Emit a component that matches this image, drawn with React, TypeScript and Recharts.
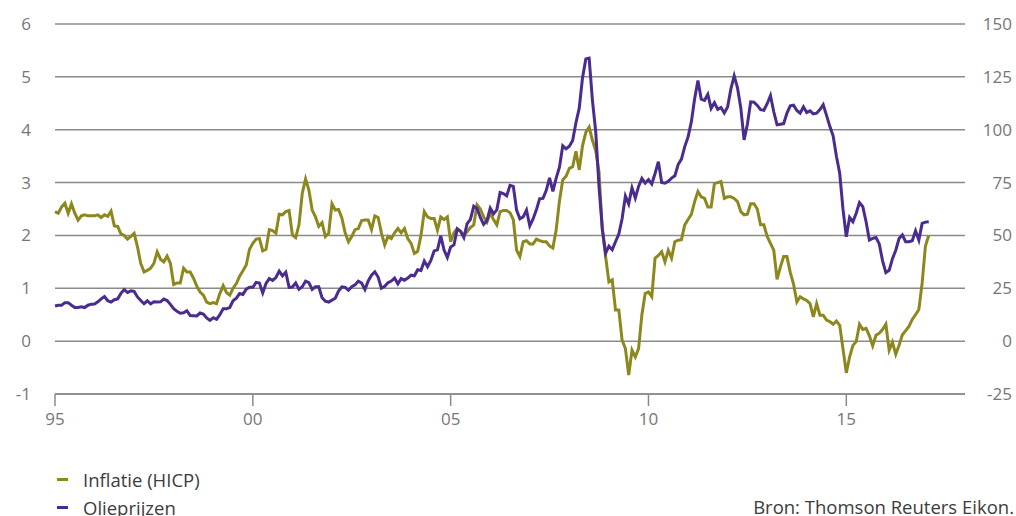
import { useLayoutEffect } from "react";
import { LineChart, Line, XAxis, YAxis, CartesianGrid } from "recharts";

const startJaar = 1995;

// HICP-inflatie eurozone, % j-o-j, maandelijks vanaf jan 1995
const inflatie = [
  2.45, 2.42, 2.54, 2.61, 2.42, 2.6, 2.42, 2.29, 2.37, 2.39, 2.37, 2.37, // 1995
  2.37, 2.39, 2.34, 2.39, 2.36, 2.46, 2.18, 2.17, 2.03, 2.0, 1.93, 1.98, // 1996
  2.04, 1.79, 1.47, 1.31, 1.34, 1.38, 1.47, 1.69, 1.55, 1.5, 1.61, 1.47, // 1997
  1.07, 1.1, 1.1, 1.38, 1.31, 1.31, 1.19, 1.04, 0.93, 0.87, 0.74, 0.71, // 1998
  0.73, 0.71, 0.9, 1.05, 0.92, 0.87, 1.0, 1.09, 1.23, 1.33, 1.44, 1.74, // 1999
  1.85, 1.93, 1.94, 1.71, 1.74, 2.11, 2.09, 2.04, 2.4, 2.39, 2.45, 2.47, // 2000
  2.01, 1.96, 2.2, 2.8, 3.07, 2.86, 2.48, 2.35, 2.17, 2.24, 1.98, 2.04, // 2001
  2.6, 2.48, 2.49, 2.33, 2.05, 1.88, 1.98, 2.11, 2.13, 2.28, 2.29, 2.29, // 2002
  2.11, 2.37, 2.34, 2.05, 1.82, 1.98, 1.94, 2.05, 2.13, 2.05, 2.13, 1.94, // 2003
  1.85, 1.66, 1.7, 2.0, 2.45, 2.35, 2.32, 2.32, 2.1, 2.35, 2.3, 2.35, // 2004
  1.88, 2.05, 2.13, 2.08, 2.0, 2.07, 2.15, 2.2, 2.58, 2.5, 2.35, 2.25, // 2005
  2.42, 2.3, 2.2, 2.45, 2.47, 2.47, 2.43, 2.3, 1.72, 1.6, 1.88, 1.9, // 2006
  1.84, 1.84, 1.93, 1.9, 1.88, 1.88, 1.8, 1.76, 2.1, 2.65, 3.05, 3.12, // 2007
  3.27, 3.3, 3.59, 3.24, 3.7, 3.95, 4.05, 3.8, 3.6, 3.2, 2.1, 1.6, // 2008
  1.12, 1.16, 0.59, 0.59, 0.02, -0.14, -0.64, -0.17, -0.3, -0.14, 0.5, 0.9, // 2009
  0.93, 0.84, 1.57, 1.62, 1.69, 1.5, 1.72, 1.57, 1.88, 1.91, 1.92, 2.2, // 2010
  2.3, 2.4, 2.64, 2.83, 2.73, 2.7, 2.54, 2.54, 2.98, 3.0, 3.02, 2.7, // 2011
  2.73, 2.73, 2.7, 2.64, 2.45, 2.39, 2.4, 2.6, 2.6, 2.5, 2.2, 2.2, // 2012
  1.98, 1.85, 1.72, 1.17, 1.4, 1.6, 1.6, 1.3, 1.08, 0.74, 0.84, 0.8, // 2013
  0.77, 0.71, 0.46, 0.71, 0.49, 0.49, 0.4, 0.37, 0.32, 0.38, 0.3, -0.15, // 2014
  -0.6, -0.3, -0.08, -0.01, 0.32, 0.22, 0.24, 0.1, -0.09, 0.11, 0.15, 0.22, // 2015
  0.32, -0.17, -0.02, -0.25, -0.08, 0.12, 0.2, 0.28, 0.41, 0.5, 0.6, 1.1, // 2016
  1.8, 2.0, // 2017
];

// Olieprijs (Brent, USD per vat), maandelijks vanaf jan 1995
const olie = [
  16.6, 17.0, 17.0, 18.2, 18.2, 17.0, 15.9, 15.9, 16.3, 15.9, 17.0, 17.5, // 1995
  17.6, 18.6, 20.0, 21.1, 19.1, 18.5, 19.6, 20.0, 22.6, 24.4, 23.0, 23.8, // 1996
  23.5, 20.9, 19.2, 17.7, 19.1, 17.6, 18.6, 18.5, 18.6, 19.9, 19.2, 17.4, // 1997
  15.4, 14.1, 13.2, 13.4, 14.4, 12.1, 12.0, 11.9, 13.3, 12.8, 11.0, 9.8, // 1998
  11.1, 10.3, 12.5, 15.3, 15.3, 15.9, 19.1, 20.3, 22.5, 22.1, 24.6, 25.5, // 1999
  25.5, 27.8, 27.5, 22.8, 27.3, 29.6, 28.7, 30.1, 33.1, 30.9, 32.6, 25.4, // 2000
  25.6, 27.5, 24.5, 25.7, 28.4, 27.7, 24.5, 25.7, 25.7, 20.5, 18.9, 18.5, // 2001
  19.4, 20.3, 23.7, 25.7, 25.4, 24.1, 25.7, 26.6, 28.4, 27.5, 24.4, 28.5, // 2002
  31.2, 32.8, 30.3, 25.0, 25.9, 27.6, 28.4, 29.8, 27.1, 29.6, 28.8, 29.8, // 2003
  31.2, 30.9, 33.8, 33.4, 37.9, 35.2, 38.2, 42.7, 43.2, 49.8, 43.1, 39.6, // 2004
  44.5, 45.5, 53.1, 51.9, 49.0, 55.6, 57.6, 63.8, 62.7, 58.5, 55.2, 56.9, // 2005
  62.9, 60.2, 62.1, 70.3, 69.8, 68.7, 73.7, 73.2, 62.0, 57.9, 58.8, 62.0, // 2006
  54.5, 57.8, 62.1, 67.4, 67.5, 71.3, 77.2, 70.8, 77.1, 82.3, 92.4, 91.0, // 2007
  92.2, 94.9, 103.3, 110.2, 124.6, 133.5, 133.9, 113.9, 99.1, 72.8, 53.2, 41.6, // 2008
  44.9, 43.2, 47.0, 50.6, 57.9, 68.6, 64.9, 72.5, 67.7, 73.2, 77.0, 74.7, // 2009
  76.4, 74.3, 79.3, 84.9, 75.0, 74.7, 75.6, 77.1, 78.2, 83.5, 86.1, 92.0, // 2010
  96.5, 103.7, 114.6, 123.3, 114.5, 113.9, 116.7, 110.1, 112.8, 109.6, 110.5, 107.9, // 2011
  110.7, 119.3, 125.5, 119.8, 110.3, 95.2, 102.6, 113.2, 113.0, 111.5, 109.5, 109.2, // 2012
  112.3, 116.1, 108.5, 102.3, 102.6, 102.9, 107.9, 111.3, 111.6, 109.1, 107.8, 110.8, // 2013
  108.1, 108.9, 107.5, 107.8, 109.5, 111.8, 106.8, 101.6, 97.1, 87.4, 79.4, 62.3, // 2014
  49.4, 58.5, 56.5, 60.5, 65.5, 63.6, 56.5, 47.8, 48.6, 49.0, 46.0, 38.0, // 2015
  32.4, 33.5, 39.0, 43.0, 48.5, 50.2, 47.0, 47.0, 47.5, 52.2, 47.8, 55.7, // 2016
  56.3, 56.5, // 2017
];

const jaarTicks = [1995, 2000, 2005, 2010, 2015];
const linksTicks = [-1, 0, 1, 2, 3, 4, 5, 6];
const rechtsTicks = [-25, 0, 25, 50, 75, 100, 125, 150];

const KLEUR_INFLATIE = "#8c881e";
const KLEUR_OLIE = "#4a2b8f";
const GRIJS = "#767676";
const TEKST = "#3c3c3c";
const LIJN = "#8a8a8a";
const FONT = "'Open Sans', 'Noto Sans', sans-serif";

const data = inflatie.map((v, i) => ({
  t: startJaar + i / 12,
  inflatie: v,
  olie: olie[i],
}));

const series = [
  { key: "inflatie", name: "Inflatie (HICP)", color: KLEUR_INFLATIE },
  { key: "olie", name: "Olieprijzen", color: KLEUR_OLIE },
];

export default function App() {
  // hele venster gebruiken, anders valt de onderste regel buiten beeld
  useLayoutEffect(() => {
    document.body.style.margin = "0";
  }, []);

  const tickStyle = { fill: GRIJS, fontSize: 17, fontFamily: FONT };

  return (
    <div
      style={{
        position: "relative",
        width: 1016,
        height: 516,
        overflow: "hidden",
        fontFamily: FONT,
      }}
    >
      <div style={{ position: "absolute", left: 8, top: 8 }}>
        <LineChart
          width={1008}
          height={430}
          data={data}
          margin={{ top: 16, right: 0, bottom: 0, left: 0 }}
        >
          <CartesianGrid
            yAxisId="links"
            vertical={false}
            stroke={LIJN}
            strokeWidth={1.5}
          />
          <XAxis
            dataKey="t"
            type="number"
            domain={[1995, 2018]}
            ticks={jaarTicks}
            tickFormatter={(v: number) => String(v % 100).padStart(2, "0")}
            height={44}
            tickSize={12}
            tickMargin={7}
            axisLine={{ stroke: LIJN, strokeWidth: 1.5 }}
            tickLine={{ stroke: LIJN, strokeWidth: 1.5 }}
            tick={tickStyle}
          />
          <YAxis
            yAxisId="links"
            orientation="left"
            domain={[-1, 6]}
            ticks={linksTicks}
            width={47}
            axisLine={false}
            tickLine={false}
            tickSize={0}
            tickMargin={24}
            tick={tickStyle}
          />
          <YAxis
            yAxisId="rechts"
            orientation="right"
            domain={[-25, 150]}
            ticks={rechtsTicks}
            width={51}
            axisLine={false}
            tickLine={false}
            tickSize={0}
            tickMargin={0}
            tick={{ ...tickStyle, textAnchor: "end", dx: 47 }}
          />
          <Line
            yAxisId="links"
            type="linear"
            dataKey="inflatie"
            name="Inflatie (HICP)"
            stroke={KLEUR_INFLATIE}
            strokeWidth={3}
            dot={false}
            isAnimationActive={false}
          />
          <Line
            yAxisId="rechts"
            type="linear"
            dataKey="olie"
            name="Olieprijzen"
            stroke={KLEUR_OLIE}
            strokeWidth={3}
            dot={false}
            isAnimationActive={false}
          />
        </LineChart>
      </div>

      <div style={{ position: "absolute", left: 57, top: 465, fontSize: 18.5, color: TEKST }}>
        {series.map((s) => (
          <div key={s.key} style={{ display: "flex", alignItems: "center", height: 28 }}>
            <span
              style={{
                display: "inline-block",
                width: 11,
                height: 3,
                background: s.color,
                marginRight: 15,
              }}
            />
            <span>{s.name}</span>
          </div>
        ))}
      </div>

      <div
        style={{
          position: "absolute",
          right: 2,
          top: 495,
          fontSize: 18.5,
          color: TEKST,
          lineHeight: "24px",
        }}
      >
        Bron: Thomson Reuters Eikon.
      </div>
    </div>
  );
}
